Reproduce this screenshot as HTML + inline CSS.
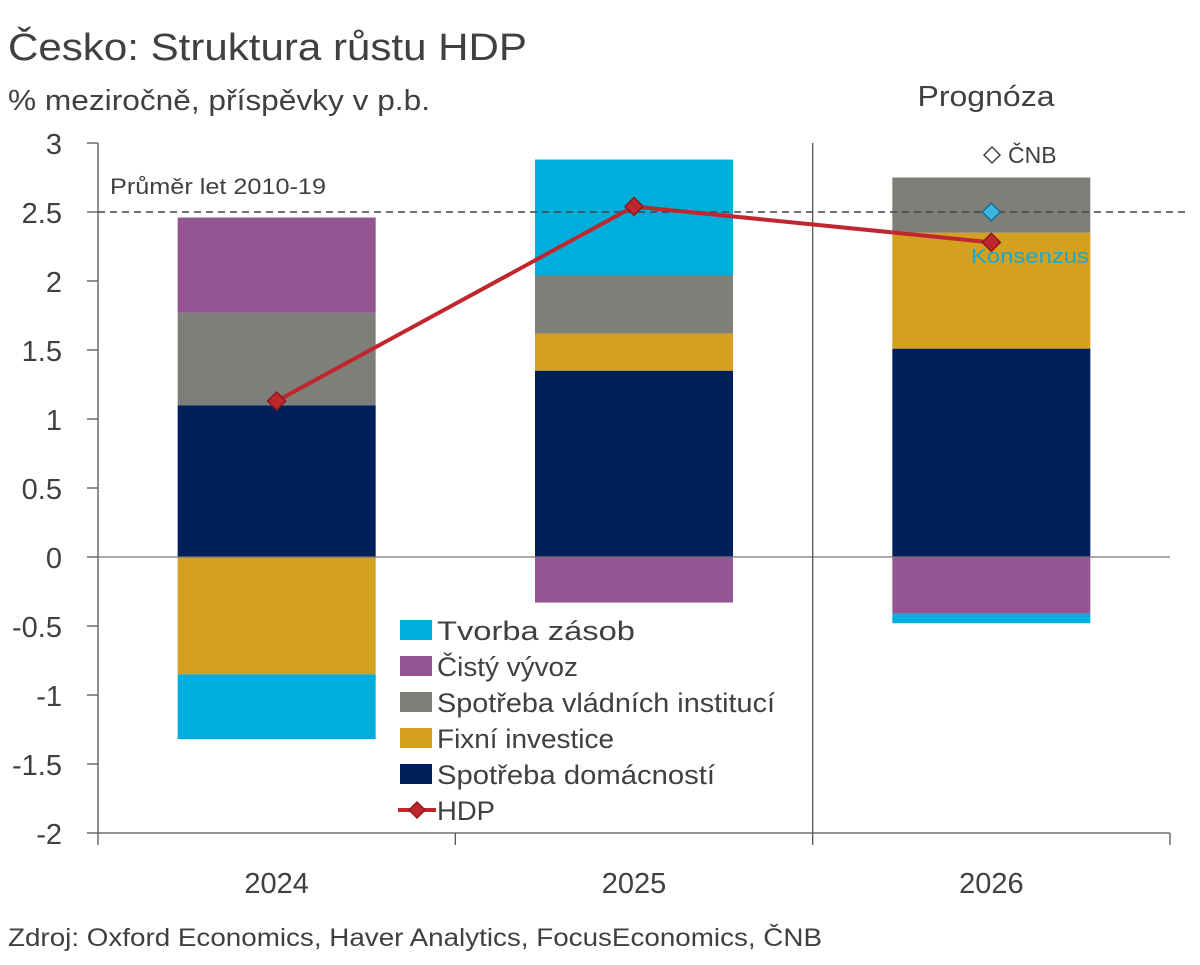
<!DOCTYPE html>
<html><head><meta charset="utf-8"><style>
body{margin:0;background:#fff;font-family:"Liberation Sans","DejaVu Sans",sans-serif;}
svg text{font-family:"Liberation Sans","DejaVu Sans",sans-serif;fill:#404040;}
</style></head><body>
<svg id="c" width="1200" height="960">
<text x="8" y="60" font-size="38" textLength="519" lengthAdjust="spacingAndGlyphs">Česko: Struktura růstu HDP</text>
<text x="8" y="110" font-size="29" textLength="422" lengthAdjust="spacingAndGlyphs">% meziročně, příspěvky v p.b.</text>
<text x="986" y="106" font-size="29" text-anchor="middle" textLength="137" lengthAdjust="spacingAndGlyphs">Prognóza</text>
<text x="8" y="946" font-size="25" textLength="814" lengthAdjust="spacingAndGlyphs">Zdroj: Oxford Economics, Haver Analytics, FocusEconomics, ČNB</text>
</svg>
<script>
const categories=["2024","2025","2026"];
const seriesNames=["Spotřeba domácností","Fixní investice","Spotřeba vládních institucí","Čistý vývoz","Tvorba zásob"];
const colors=["#00205b","#d4a020","#7f7f7a","#955592","#00aedb"];
const household=[1.10,1.35,1.51];
const investment=[-0.85,0.27,0.84];
const government=[0.67,0.42,0.40];
const netExports=[0.69,-0.33,-0.41];
const inventories=[-0.47,0.84,-0.07];
const gdp=[1.13,2.54,2.28];
const cnb=2.5;
const avg=2.5;
const yTicks=[3,2.5,2,1.5,1,0.5,0,-0.5,-1,-1.5,-2];
const series=[household,investment,government,netExports,inventories];
const svg=document.getElementById('c');const NS="http://www.w3.org/2000/svg";
const X0=98,X1=1170,Y0=143,Y1=833,vmin=-2,vmax=3;
const y=v=>Y1-(v-vmin)/(vmax-vmin)*(Y1-Y0);
const cw=(X1-X0)/categories.length;
const xc=i=>X0+cw*(i+0.5);
function el(t,a,p){const e=document.createElementNS(NS,t);for(const k in a)e.setAttribute(k,a[k]);(p||svg).appendChild(e);return e;}
let e=el('line',{x1:X0,x2:X0,y1:Y0,y2:Y1,stroke:'#555','stroke-width':1.3});


yTicks.forEach(v=>{
 let t=el('line',{x1:X0-11,x2:X0,y1:y(v),y2:y(v),stroke:'#555','stroke-width':1.3});
 
 
 let l=el('text',{x:X0-36,y:y(v)+11,'font-size':29,'text-anchor':'end'});l.textContent=v;
 
 
});
categories.forEach((c,i)=>{
 let pos=0,neg=0;
 series.forEach((s,j)=>{
  const v=s[i];let a,b;
  if(v>=0){a=pos;b=pos+v;pos=b;}else{a=neg;b=neg+v;neg=b;}
  let r=el('rect',{x:xc(i)-99,width:198,y:y(Math.max(a,b)),height:Math.abs(y(a)-y(b)),fill:colors[j]});
  
  
 });
 let l=el('text',{x:xc(i),y:893,'font-size':29,'text-anchor':'middle'});l.textContent=c;
 
 
});
e=el('line',{x1:X0,x2:X1,y1:y(0),y2:y(0),stroke:'#777','stroke-width':1.3});


e=el('line',{x1:X0,x2:X1,y1:Y1,y2:Y1,stroke:'#555','stroke-width':1.3});


for(let i=0;i<=categories.length;i++){
 let t=el('line',{x1:X0+cw*i,x2:X0+cw*i,y1:Y1,y2:Y1+12,stroke:'#555','stroke-width':1.3});
 
 
}
e=el('line',{x1:X0+cw*2,x2:X0+cw*2,y1:Y0,y2:Y1,stroke:'#555','stroke-width':1.3});


e=el('line',{x1:X0,x2:1188,y1:y(avg),y2:y(avg),stroke:'#444','stroke-width':1.5,'stroke-dasharray':'7,5'});


e=el('text',{x:110,y:194,'font-size':22,textLength:216,lengthAdjust:'spacingAndGlyphs'});e.textContent='Průměr let 2010-19';


e=el('polyline',{points:gdp.map((v,i)=>xc(i)+','+y(v)).join(' '),fill:'none',stroke:'#c0262d','stroke-width':4});


const dia=(cx,cy,s,f,st)=>el('polygon',{points:`${cx},${cy-s} ${cx+s},${cy} ${cx},${cy+s} ${cx-s},${cy}`,fill:f,stroke:st,'stroke-width':1.5});
gdp.forEach((v,i)=>{let d=dia(xc(i),y(v),9,'#c0262d','#8a1a20');
 
 });
e=dia(xc(2),y(cnb),9,'#3bb4e0','#1a6a90');


e=dia(992,155,8,'#fff','#444');


e=el('text',{x:1008,y:163,'font-size':23});e.textContent='ČNB';


e=el('text',{x:1030,y:263,'font-size':20,'text-anchor':'middle',textLength:118,lengthAdjust:'spacingAndGlyphs',style:'fill:#1aa8d0'});e.textContent='Konsenzus';


const leg=[[4,'Tvorba zásob',198],[3,'Čistý vývoz',141],[2,'Spotřeba vládních institucí',338],[1,'Fixní investice',177],[0,'Spotřeba domácností',278]];
leg.forEach((L,k)=>{const yy=630+k*36;
 let r=el('rect',{x:400,y:yy-10,width:32,height:20,fill:colors[L[0]]});
 
 
 let t=el('text',{x:437,y:yy+10,'font-size':27,textLength:L[2],lengthAdjust:'spacingAndGlyphs'});t.textContent=L[1];
 
 
});
e=el('line',{x1:398,x2:436,y1:810,y2:810,stroke:'#c0262d','stroke-width':4});


e=dia(417,810,8,'#c0262d','#8a1a20');


e=el('text',{x:437,y:820,'font-size':27,textLength:58,lengthAdjust:'spacingAndGlyphs'});e.textContent='HDP';


</script>
</body></html>
